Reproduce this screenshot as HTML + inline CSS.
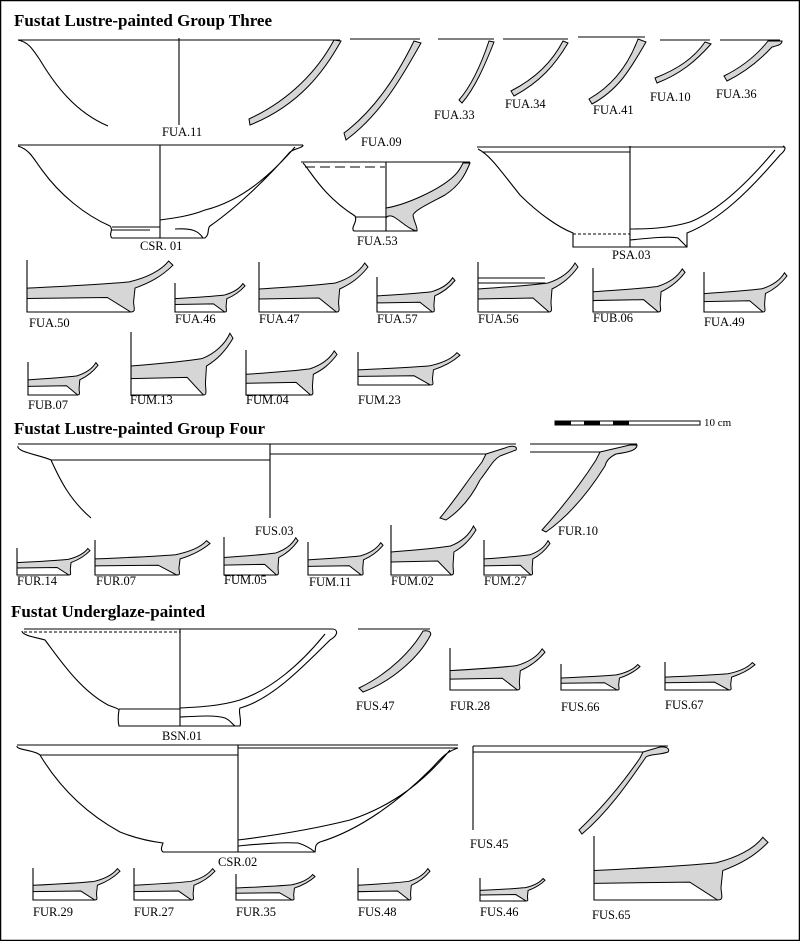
<!DOCTYPE html>
<html><head><meta charset="utf-8"><style>
html,body{margin:0;padding:0;background:#fff;}
svg{display:block;}
text{font-family:"Liberation Serif",serif;font-size:12.5px;fill:#000;}
.t{font-size:17px;font-weight:bold;}
.l{fill:none;stroke:#000;stroke-width:1.1;}
.g{fill:#d6d6d6;stroke:#000;stroke-width:1;}
.n{vector-effect:non-scaling-stroke;}
</style></head><body>
<svg width="800" height="941" viewBox="0 0 800 941" xmlns="http://www.w3.org/2000/svg">
<defs>
<g id="b">
<path class="g n" d="M0,27 C30,25 55,23 70,21 C82,17 92,10 97,1 L100,5 C92,16 84,22 74,27 L73,40 C73,46 75,50 71,50 L55,36 L0,37 Z"/>
<path class="l n" d="M0,0 V50 H71"/>
</g>
</defs>
<rect x="0.5" y="0.5" width="799" height="940" fill="none" stroke="#000" stroke-width="1.5"/>

<text class="t" x="14" y="26">Fustat Lustre-painted Group Three</text>
<text class="t" x="14" y="434">Fustat Lustre-painted Group Four</text>
<text class="t" x="11" y="617">Fustat Underglaze-painted</text>

<!-- FUA.11 -->
<path class="l" d="M18,40 H340 M179,38 V125 M18,40 C28,42 32,48 40,60 C55,85 75,112 108,126"/>
<path class="g" d="M334,40 L341,41 C325,70 300,105 250,125 L249,119 C290,100 318,70 334,40Z"/>
<text x="162" y="136">FUA.11</text>
<!-- FUA.09 -->
<path class="l" d="M350,39 H420"/>
<path class="g" d="M414,41 L421,43 C400,80 380,115 346,140 L344,133 C372,112 395,80 414,41Z"/>
<text x="361" y="146">FUA.09</text>
<path class="l" d="M438,39 H494"/>
<path class="g" d="M489,41 L494,42 C485,65 475,88 462,103 L459,100 C472,85 482,62 489,41Z"/>
<text x="434" y="119">FUA.33</text>
<path class="l" d="M503,39 H568"/>
<path class="g" d="M563,41 L568,43 C555,65 540,82 514,96 L511,91 C536,78 552,62 563,41Z"/>
<text x="505" y="108">FUA.34</text>
<path class="l" d="M578,37 H645"/>
<path class="g" d="M638,39 L646,42 C630,70 618,90 592,104 L589,99 C612,86 628,66 638,39Z"/>
<text x="593" y="114">FUA.41</text>
<path class="l" d="M660,40 H710"/>
<path class="g" d="M705,42 L711,44 C695,62 680,74 657,83 L655,78 C678,69 694,58 705,42Z"/>
<text x="650" y="101">FUA.10</text>
<path class="l" d="M720,40 H780"/>
<path class="g" d="M768,41 L782,41 C782,45 776,46 772,47 C760,60 745,72 727,81 L724,76 C742,67 757,55 768,41Z"/>
<text x="716" y="98">FUA.36</text>

<!-- CSR.01 -->
<path class="l" d="M18,145 H303 M160,145 V238 M18,146 C30,150 33,158 42,170 C60,195 85,215 110,226 C114,230 108,234 112,238 H205 C210,234 207,228 210,226 C240,205 270,175 290,152 C296,148 303,148 303,145 M295,147 C275,170 245,200 205,210 C190,216 175,218 160,220 M112,227 H160 M112,230 H150 M175,229 C190,228 198,230 203,238"/>
<text x="140" y="250">CSR. 01</text>
<!-- FUA.53 -->
<path class="l" d="M301,162 H470 M386,162 V231 M303,163 C310,170 322,195 355,216 C358,222 350,228 354,231 H417 M355,217 H386"/>
<path class="l" d="M305,167 H385" stroke-dasharray="10,5"/>
<path class="g" d="M463,163 L470,163 C465,175 460,185 445,195 C430,203 415,210 413,215 C414,222 418,228 417,231 C410,230 402,222 394,217 C390,215 387,216 386,218 V208 C405,205 440,190 455,175 C460,170 462,165 463,163Z"/>
<text x="357" y="245">FUA.53</text>
<!-- PSA.03 -->
<path class="l" d="M477,147 H785 M482,152 H630 M630,146 V247 M478,149 C490,155 500,170 520,195 C540,215 560,228 573,233 V247 H687 V233 C720,220 750,190 780,155 C786,150 786,147 783,146 M775,150 C750,180 720,210 690,222 C670,228 650,229 630,229 M630,240 C650,238 670,236 678,238 L687,247"/>
<path class="l" d="M573,234 H630" stroke-dasharray="3,2"/>
<text x="612" y="259">PSA.03</text>

<!-- base sherds row 3 -->
<use href="#b" transform="translate(27,260) scale(1.46,1.04)"/><text x="29" y="327">FUA.50</text>
<use href="#b" transform="translate(175,283) scale(0.70,0.58)"/><text x="175" y="323">FUA.46</text>
<use href="#b" transform="translate(259,262) scale(1.09,1.0)"/><text x="259" y="323">FUA.47</text>
<use href="#b" transform="translate(377,277) scale(0.78,0.70)"/><text x="377" y="323">FUA.57</text>
<use href="#b" transform="translate(478,262) scale(1.0,1.0)"/><text x="478" y="323">FUA.56</text>
<path class="l" d="M478,278 H545 M478,283 H545"/>
<use href="#b" transform="translate(593,268) scale(0.92,0.88)"/><text x="593" y="322">FUB.06</text>
<use href="#b" transform="translate(704,272) scale(0.83,0.80)"/><text x="704" y="326">FUA.49</text>
<use href="#b" transform="translate(28,362) scale(0.70,0.66)"/><text x="28" y="409">FUB.07</text>
<use href="#b" transform="translate(131,332) scale(1.02,1.26)"/><text x="130" y="404">FUM.13</text>
<use href="#b" transform="translate(246,350) scale(0.91,0.90)"/><text x="246" y="404">FUM.04</text>
<use href="#b" transform="translate(358,352) scale(1.02,0.66)"/><text x="358" y="404">FUM.23</text>

<!-- scale bar -->
<rect x="555" y="421" width="145" height="4" fill="#fff" stroke="#000" stroke-width="1"/>
<rect x="555" y="421" width="16" height="4" fill="#000"/>
<rect x="584" y="421" width="16" height="4" fill="#000"/>
<rect x="613" y="421" width="16" height="4" fill="#000"/>
<text x="704" y="426" style="font-size:11px">10 cm</text>

<!-- FUS.03 -->
<path class="l" d="M18,444 H516 M51,460 H270 M270,444 V518 M270,454 H486 M18,446 C16,452 40,455 51,460 C60,480 70,500 91,518"/>
<path class="g" d="M486,454 L505,448 C512,445 518,446 516,450 L500,456 C493,460 490,467 480,480 C470,500 458,512 446,520 L440,518 C455,500 468,480 482,462 Z"/>
<text x="255" y="535">FUS.03</text>
<!-- FUR.10 -->
<path class="l" d="M530,444 H637 M530,452 H600"/>
<path class="g" d="M600,452 L630,445 L637,445 C637,450 630,452 616,454 C608,458 606,462 605,466 C590,490 570,515 546,532 L542,530 C560,510 580,485 596,460 Z"/>
<text x="558" y="535">FUR.10</text>

<use href="#b" transform="translate(17,548) scale(0.73,0.54)"/><text x="17" y="585">FUR.14</text>
<use href="#b" transform="translate(95,540) scale(1.15,0.70)"/><text x="96" y="585">FUR.07</text>
<use href="#b" transform="translate(224,537) scale(0.74,0.76)"/><text x="224" y="584">FUM.05</text>
<use href="#b" transform="translate(308,542) scale(0.75,0.66)"/><text x="309" y="586">FUM.11</text>
<use href="#b" transform="translate(391,525) scale(0.85,1.0)"/><text x="391" y="585">FUM.02</text>
<use href="#b" transform="translate(484,540) scale(0.66,0.70)"/><text x="484" y="585">FUM.27</text>

<!-- BSN.01 -->
<path class="l" d="M180,629 H332 M180,629 V726 M24,629 H180 M22,631 C22,636 40,638 45,640 C60,660 80,690 108,705 C115,708 118,708 119,710 C118,716 118,722 119,726 H240 C242,720 238,712 240,708 C270,700 300,670 330,640 C340,634 337,629 332,629 M325,634 C300,665 270,690 240,700 C220,706 200,707 180,708 M119,709 H180 M180,717 C200,716 215,715 225,718 C230,720 232,724 235,726"/>
<path class="l" d="M24,632 H180" stroke-dasharray="3,2"/>
<text x="162" y="740">BSN.01</text>
<!-- FUS.47 -->
<path class="l" d="M358,629 H430"/>
<path class="g" d="M423,631 C430,630 432,633 430,636 C420,655 395,680 363,692 L359,688 C390,673 412,650 423,631Z"/>
<text x="356" y="710">FUS.47</text>
<use href="#b" transform="translate(450,648) scale(0.95,0.84)"/><text x="450" y="710">FUR.28</text>
<use href="#b" transform="translate(561,664) scale(0.79,0.52)"/><text x="561" y="711">FUS.66</text>
<use href="#b" transform="translate(665,662) scale(0.90,0.56)"/><text x="665" y="709">FUS.67</text>

<!-- CSR.02 -->
<path class="l" d="M17,745 H458 M40,755 H238 M238,745 V852 M238,748 H458 M17,746 C16,750 35,750 40,755 C55,780 80,810 120,832 C140,840 155,842 163,843 C162,846 160,850 163,852 H315 C316,848 314,845 320,842 C360,830 400,800 430,770 C440,760 445,752 458,748 M450,750 C425,780 395,805 350,820 C310,830 270,836 238,840 M238,846 C260,844 280,842 298,843 C305,845 310,848 315,852"/>
<text x="218" y="866">CSR.02</text>
<!-- FUS.45 -->
<path class="l" d="M473,746 H668 M473,752 H643 M473,746 V830"/>
<path class="g" d="M643,752 L660,747 C668,746 670,750 668,752 C660,755 650,754 646,757 C630,780 610,810 582,834 L579,830 C605,805 625,780 640,758 Z"/>
<text x="470" y="848">FUS.45</text>

<use href="#b" transform="translate(33,868) scale(0.87,0.64)"/><text x="33" y="916">FUR.29</text>
<use href="#b" transform="translate(134,868) scale(0.81,0.64)"/><text x="134" y="916">FUR.27</text>
<use href="#b" transform="translate(236,874) scale(0.79,0.52)"/><text x="236" y="916">FUR.35</text>
<use href="#b" transform="translate(358,868) scale(0.72,0.64)"/><text x="358" y="916">FUS.48</text>
<use href="#b" transform="translate(480,878) scale(0.65,0.46)"/><text x="480" y="916">FUS.46</text>
<use href="#b" transform="translate(594,836) scale(1.74,1.28)"/><text x="592" y="919">FUS.65</text>
</svg>
</body></html>
